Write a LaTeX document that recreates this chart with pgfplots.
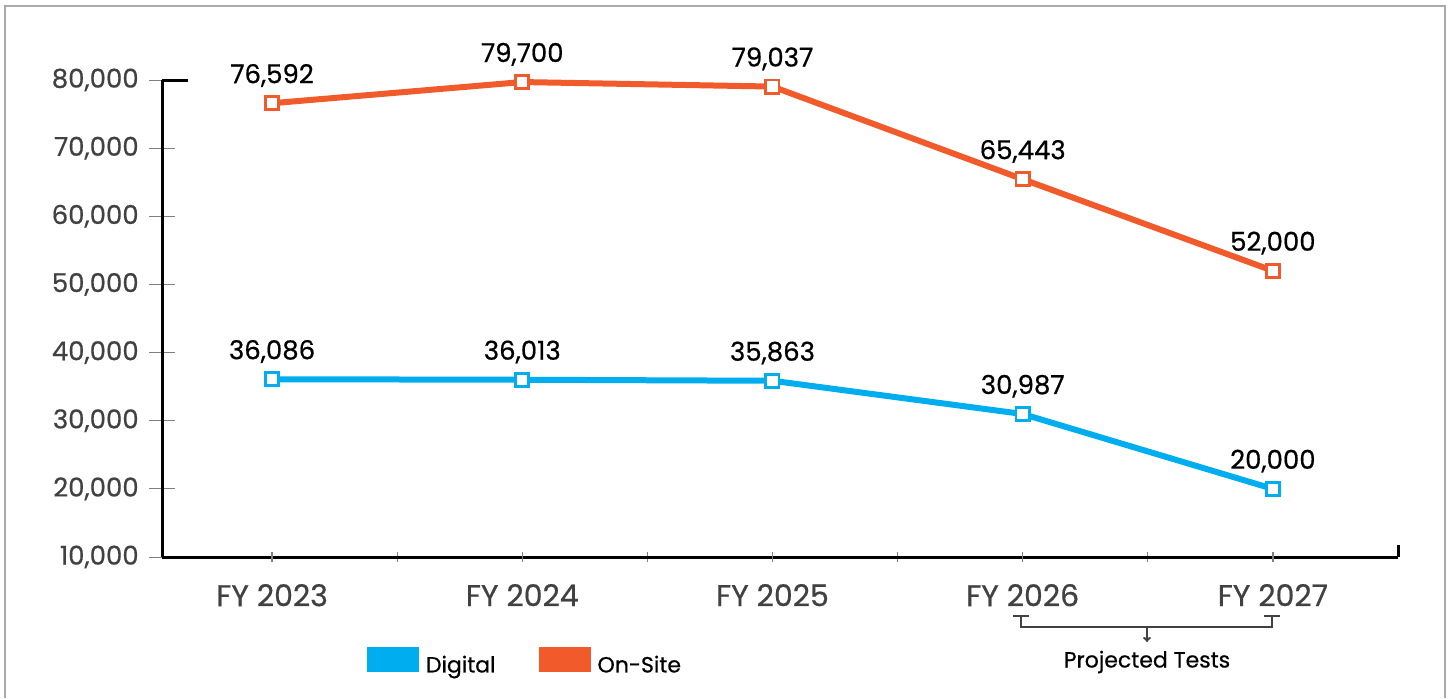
\documentclass[border=0pt]{standalone}
\usepackage{fontspec}
\setmainfont{Poppins}[UprightFeatures={FakeBold=0.6}]
\usepackage{pgfplots}
\pgfplotsset{compat=1.18}
\usetikzlibrary{arrows.meta}
\definecolor{onsite}{HTML}{F15A2B}
\definecolor{digital}{HTML}{00AEEF}
\definecolor{ticktext}{HTML}{414042}
\definecolor{framegray}{HTML}{AAAAAA}
\begin{document}
\begin{tikzpicture}
\useasboundingbox (0,0) rectangle (724pt,349pt);
\draw[color=framegray, line width=1pt] (2.5pt,0) -- (2.5pt,346pt) -- (722.5pt,346pt) -- (722.5pt,0);
\begin{axis}[
  at={(81pt,70.5pt)}, anchor=south west, scale only axis,
  width=618pt, height=238.5pt,
  xmin=-0.44, xmax=4.5, ymin=10000, ymax=80000,
  axis x line=bottom, axis y line=left,
  axis line style={-, line width=1.5pt, black},
  x axis line style={-, line width=1.5pt, black},
  y axis line style={-, line width=1.5pt, black},
  clip=false,
  xtick={0.5,1.5,2.5,3.5}, xticklabels={},
  xtick style={/pgfplots/major tick length=5pt, color=gray, line width=0.6pt},
  extra x ticks={0,1,2,3,4},
  extra x tick labels={FY 2023,FY 2024,FY 2025,FY 2026,FY 2027},
  extra x tick style={/pgfplots/major tick length=0pt,
     tick label style={font=\fontsize{15}{17}\selectfont, text=ticktext, yshift=-10pt}},
  ytick={10000,20000,30000,40000,50000,60000,70000,80000},
  ytick style={/pgfplots/major tick length=13pt, color=gray, line width=0.5pt},
  yticklabel style={font=\fontsize{13}{15}\selectfont, text=ticktext, xshift=-6pt},
  scaled y ticks=false,
  /pgf/number format/.cd, 1000 sep={,}, assume math mode=true, /pgfplots/.cd,
  legend style={at={(rel axis cs:0,0)}, anchor=west, xshift=102.5pt, yshift=-52pt,
     draw=none, fill=none, inner sep=0pt, outer sep=0pt,
     font=\fontsize{11}{13}\selectfont,
     nodes={inner sep=0pt},
     /tikz/every odd column/.append style={column sep=3.5pt},
     /tikz/every even column/.append style={column sep=21.5pt}},
  legend columns=2,
  legend image code/.code={\fill (0pt,-1.5pt) rectangle (23pt,8pt);},
  every node near coord/.append style={font=\fontsize{13}{15}\selectfont, text=black, anchor=base, yshift=10pt, inner sep=0pt},
]
\addplot[color=digital, line width=3pt, mark=square*, mark size=3.3pt,
  mark options={fill=white, line width=1.4pt},
  nodes near coords, point meta=explicit symbolic]
  coordinates {(0,36086)[36,086] (1,36013)[36,013] (2,35863)[35,863] (3,30987)[30,987] (4,20000)[20,000]};
\addlegendentry{Digital}
\addplot[color=onsite, line width=3pt, mark=square*, mark size=3.3pt,
  mark options={fill=white, line width=1.4pt},
  nodes near coords, point meta=explicit symbolic]
  coordinates {(0,76592)[76,592] (1,79700)[79,700] (2,79037)[79,037] (3,65443)[65,443] (4,52000)[52,000]};
\addlegendentry{On-Site}
\draw[line width=1.5pt, black] (rel axis cs:0,1) -- ([xshift=13pt]rel axis cs:0,1);
\draw[line width=1.5pt, black] (rel axis cs:1,0) -- ([yshift=6pt]rel axis cs:1,0);
\end{axis}
\draw[color=ticktext, line width=1pt] (506.5pt,41pt) -- (514.5pt,41pt);
\draw[color=ticktext, line width=1pt] (632pt,41pt) -- (640pt,41pt);
\draw[color=ticktext, line width=1pt] (510.5pt,41pt) -- (510.5pt,35.5pt) -- (636pt,35.5pt) -- (636pt,41pt);
\draw[color=ticktext, line width=1pt, -{To[length=2.5pt,width=4pt]}] (573.5pt,35.5pt) -- (573.5pt,28pt);
\node[font=\fontsize{11}{13}\selectfont, text=black] at (573.5pt,18pt) {Projected Tests};
\end{tikzpicture}
\end{document}
